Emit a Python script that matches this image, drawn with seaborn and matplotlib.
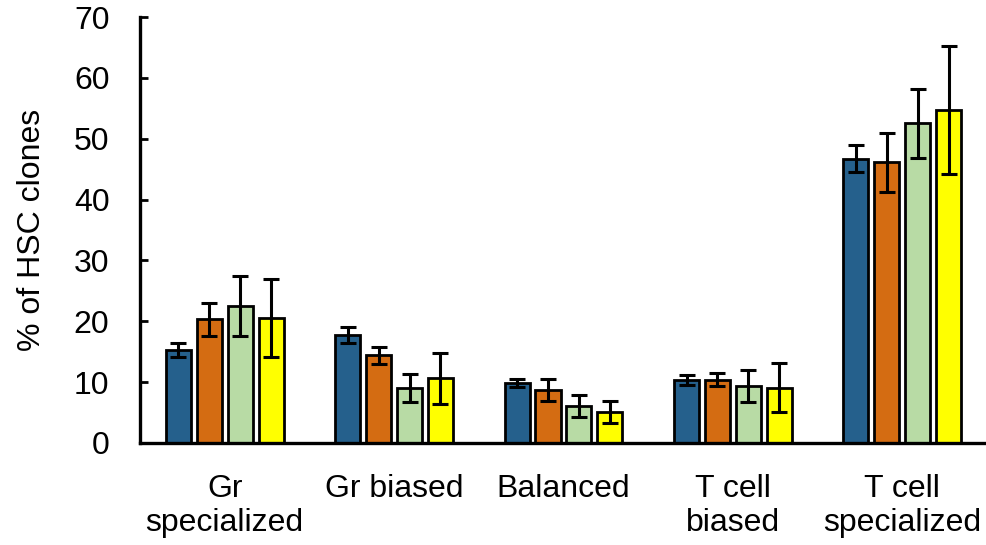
import numpy as np
import pandas as pd
import matplotlib
matplotlib.use("Agg")
import matplotlib.pyplot as plt
import seaborn as sns

categories = ["Gr\nspecialized", "Gr biased", "Balanced", "T cell\nbiased", "T cell\nspecialized"]
groups = ["G1", "G2", "G3", "G4"]
values_g1 = [15.3, 17.8, 9.85, 10.3, 46.7]
values_g2 = [20.3, 14.4, 8.7, 10.4, 46.1]
values_g3 = [22.5, 9.1, 6.1, 9.4, 52.5]
values_g4 = [20.6, 10.6, 5.1, 9.1, 54.7]
errors_g1 = [1.2, 1.3, 0.6, 0.85, 2.2]
errors_g2 = [2.7, 1.4, 1.8, 1.1, 4.9]
errors_g3 = [5.0, 2.3, 1.8, 2.6, 5.6]
errors_g4 = [6.4, 4.2, 1.8, 4.0, 10.5]
colors = ["#25608C", "#D46C12", "#B8DBA5", "#FFFF00"]
yticks = [0, 10, 20, 30, 40, 50, 60, 70]

vals = [values_g1, values_g2, values_g3, values_g4]
errs = [errors_g1, errors_g2, errors_g3, errors_g4]
rows = []
for g, v, e in zip(groups, vals, errs):
    for c, vv, ee in zip(categories, v, e):
        rows.append({"category": c, "group": g, "value": vv, "err": ee})
df = pd.DataFrame(rows)

sns.set_theme(style="white")
plt.rcParams["font.family"] = ["Liberation Sans", "DejaVu Sans"]

fig = plt.figure(figsize=(9.87, 5.45), dpi=100)
ax = fig.add_axes([0.1418, 0.1872, 0.8582, 0.7816])

sns.barplot(data=df, x="category", y="value", hue="group", order=categories,
            hue_order=groups, palette=colors, width=0.73, gap=0.19,
            edgecolor="black", linewidth=2, errorbar=None, legend=False,
            saturation=1, ax=ax)

patches = [p for p in ax.patches if p.get_height() > 0]
i = 0
for g, e in zip(groups, errs):
    for j in range(len(categories)):
        p = patches[i]
        cx = p.get_x() + p.get_width() / 2
        ax.errorbar(cx, p.get_height(), yerr=e[j], fmt="none", ecolor="black",
                    elinewidth=2.2, capsize=5.5, capthick=2.2, zorder=5)
        i += 1

ax.set_xlim(-0.5, 4.5)
ax.set_ylim(0, 70)
ax.set_yticks(yticks)
ax.set_xlabel("")
ax.set_ylabel("% of HSC clones", fontsize=23, labelpad=19, color="black")
sns.despine(ax=ax)
for s in ["left", "bottom"]:
    ax.spines[s].set_linewidth(2.4)
    ax.spines[s].set_color("black")
ax.tick_params(axis="y", direction="in", length=6, width=2, labelsize=23,
               pad=22, colors="black", left=True)
ax.tick_params(axis="x", length=0, labelsize=23, pad=22, colors="black")
for lab in ax.get_xticklabels():
    lab.set_linespacing(1.2)

fig.savefig("out.png", dpi=100)
